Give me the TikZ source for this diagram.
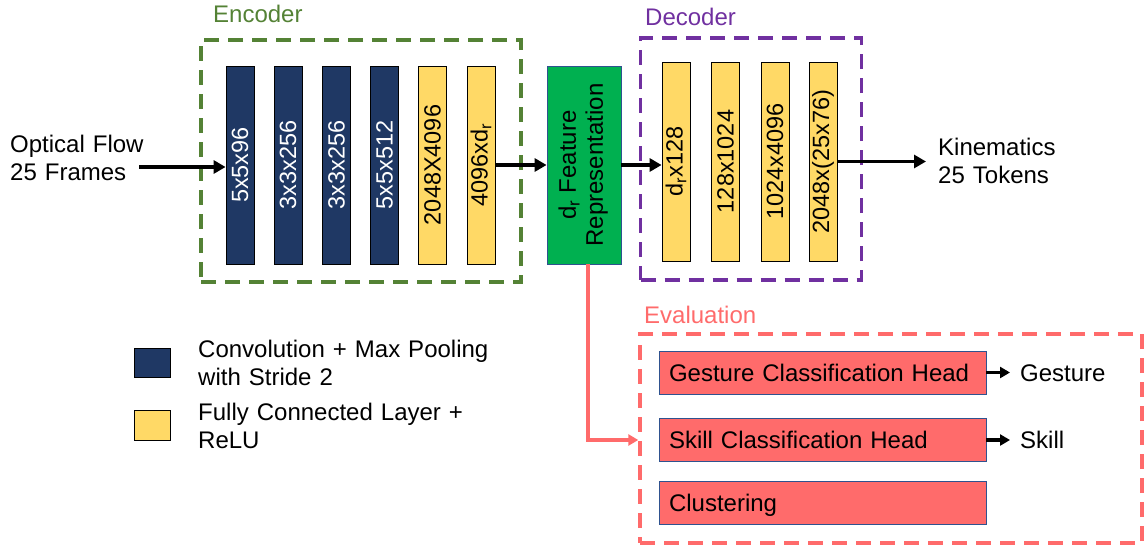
\documentclass[tikz,border=0pt]{standalone}
\usepackage{fontspec}
\setmainfont{Liberation Sans}
\usepackage{graphicx}
\usetikzlibrary{arrows.meta}
\definecolor{navy}{HTML}{1F3864}
\definecolor{fcyellow}{HTML}{FFD966}
\definecolor{featgreen}{HTML}{00B050}
\definecolor{salmon}{HTML}{FF6B6B}
\definecolor{encgreen}{HTML}{548235}
\definecolor{decpurple}{HTML}{7030A0}
\definecolor{bordblue}{HTML}{2F528F}
\begin{document}
\begin{tikzpicture}[x=1pt,y=-1pt,
  txt/.style={font=\fontsize{24}{28}\selectfont, inner sep=0pt},
  conv/.style={draw=black, line width=0.8pt, fill=navy, text=white, minimum width=28pt, minimum height=198pt, inner sep=0pt, font=\fontsize{23.5}{27}\selectfont},
  fc/.style={conv, fill=fcyellow, text=black},
  grp/.style={line width=3.4pt, dash pattern=on 15pt off 9pt, inner sep=0pt},
  grplab/.style={txt, anchor=base west},
  arr/.style={line width=3.2pt, -{Triangle[length=12pt,width=13pt]}},
  sarr/.style={line width=3.2pt, -{Triangle[length=10pt,width=11pt]}},
  rarr/.style={line width=3.4pt, draw=salmon, -{Triangle[length=10pt,width=11pt]}},
  ebox/.style={draw=bordblue, line width=0.8pt, fill=salmon, minimum height=43pt, font=\fontsize{24}{28}\selectfont, inner sep=0pt, inner xsep=10pt, text width=307pt, align=left, text height=17.5pt, text depth=0pt},
  legbox/.style={draw=black, line width=0.8pt, minimum width=36pt, minimum height=29pt, inner sep=0pt},
  legtxt/.style={txt, anchor=base west, text width=320pt, align=left}
]
\useasboundingbox (0,0) rectangle (1146,546);

% groups
\node[grp, draw=encgreen, minimum width=320pt, minimum height=242pt] (enc) at (361,161) {};
\node[grplab, text=encgreen] (enclab) at (213,23) {Encoder};
\node[grp, draw=decpurple, minimum width=221pt, minimum height=242pt] (dec) at (751,159) {};
\node[grplab, text=decpurple] (declab) at (645,25) {Decoder};
\node[grp, draw=salmon, minimum width=502pt, minimum height=209pt] (eval) at (891,438.5) {};
\node[grplab, text=salmon] (evallab) at (644,323) {Evaluation};

% encoder
\node[conv] (e1) at (240,165) {\rotatebox{90}{5x5x96}};
\node[conv] (e2) at (288,165) {\rotatebox{90}{3x3x256}};
\node[conv] (e3) at (336.5,165) {\rotatebox{90}{3x3x256}};
\node[conv] (e4) at (384.5,165) {\rotatebox{90}{5x5x512}};
\node[fc] (e5) at (432.5,165) {\rotatebox{90}{2048X4096}};
\node[fc] (e6) at (481,165) {\rotatebox{90}{4096xd\textsubscript{r}}};

% feature
\node[draw=bordblue, line width=0.8pt, fill=featgreen, minimum width=74pt, minimum height=198pt, inner sep=0pt, font=\fontsize{24}{27}\selectfont] (feat) at (584,165)
  {\rotatebox{90}{\begin{tabular}{@{}c@{}}d\textsubscript{r} Feature\\Representation\end{tabular}}};

% decoder
\node[fc, minimum height=199pt] (d1) at (676,161.5) {\rotatebox{90}{d\textsubscript{r}x128}};
\node[fc, minimum height=199pt] (d2) at (725.5,161.5) {\rotatebox{90}{128x1024}};
\node[fc, minimum height=199pt] (d3) at (775,161.5) {\rotatebox{90}{1024x4096}};
\node[fc, minimum height=199pt] (d4) at (823,161.5) {\rotatebox{90}{2048x(25x76)}};

% input / output
\node[legtxt, text width=150pt] (inp) at (10,152) {Optical Flow\\25 Frames};
\coordinate (instart) at (139,167);
\node[legtxt, text width=150pt] (kin) at (938,155) {Kinematics\\25 Tokens};

\draw[arr] (instart) -- (instart -| e1.west);
\draw[arr] (e6.east) -- (e6.east -| feat.west);
\draw[arr] (feat.east) -- (feat.east -| d1.west);
\draw[arr, shorten >=12pt] (d4.east) -- (d4.east -| kin.west);

% evaluation
\node[ebox] (gest) at (822.5,372.5) {Gesture Classification Head};
\node[ebox] (skill) at (822.5,440) {Skill Classification Head};
\node[ebox] (clus) at (822.5,503) {Clustering};
\node[txt, anchor=west, text height=17.5pt, text depth=0pt] (gout) at (1020,372.5) {Gesture};
\node[txt, anchor=west, text height=17.5pt, text depth=0pt] (sout) at (1020,440) {Skill};
\draw[sarr] (gest.east) -- ([xshift=-10pt]gout.west);
\draw[sarr] (skill.east) -- ([xshift=-10pt]sout.west);

\draw[rarr] ([xshift=4pt]feat.south) |- (skill.west -| eval.west);

% legend
\node[legbox, fill=navy] (lconv) at (152,362.5) {};
\node[legbox, fill=fcyellow, minimum height=30pt] (lfc) at (152,425) {};
\node[legtxt] (lconvt) at (198,357) {Convolution + Max Pooling\\with Stride 2};
\node[legtxt] (lfct) at (198,420) {Fully Connected Layer +\\ReLU};
\end{tikzpicture}
\end{document}
